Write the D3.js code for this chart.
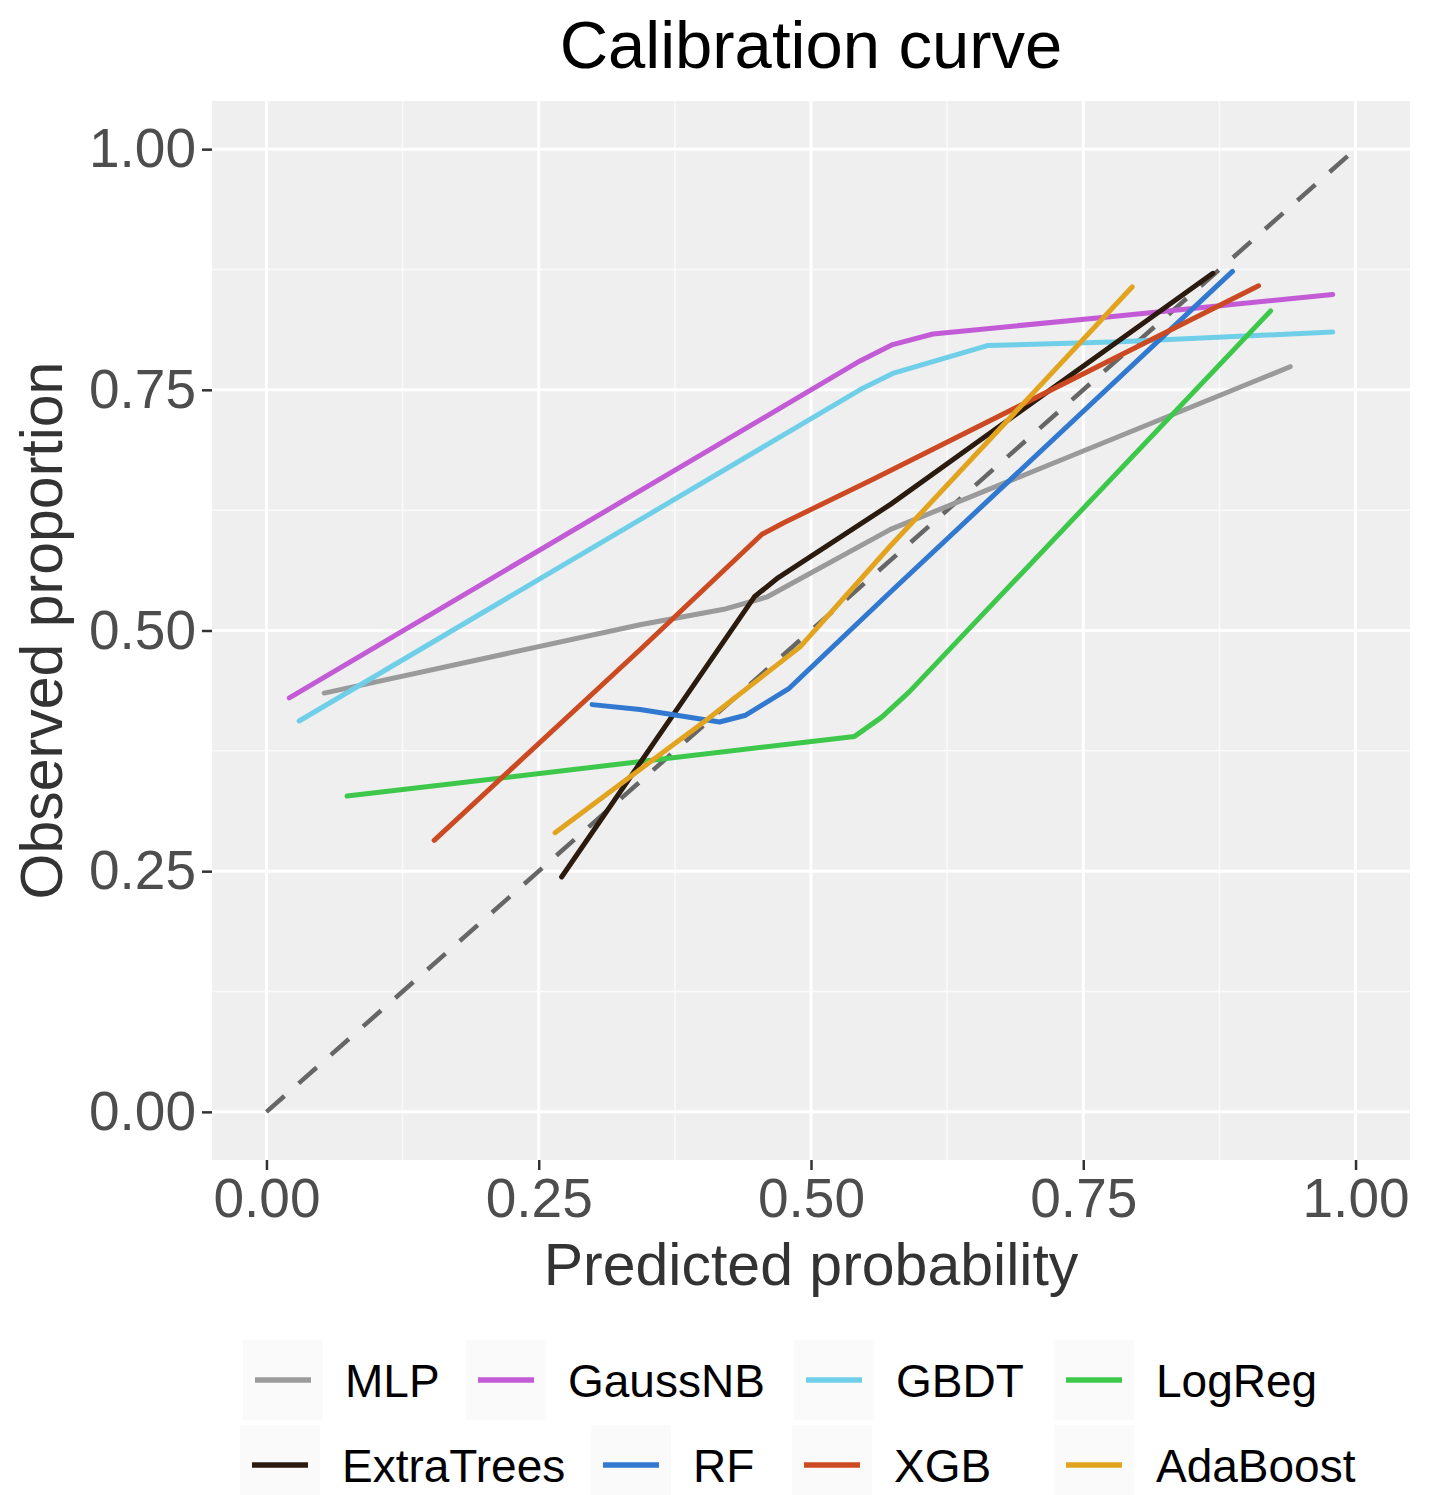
<!DOCTYPE html>
<html>
<head>
<script src="https://cdn.jsdelivr.net/npm/d3@7"></script>
<style>
  body { margin: 0; background: #fff; }
  text { font-family: "Liberation Sans", Arial, sans-serif; }
</style>
</head>
<body>
<script>
// models, in legend order
var models = ["MLP", "GaussNB", "GBDT", "LogReg", "ExtraTrees", "RF", "XGB", "AdaBoost"];
var colors = ["#9a9a9a", "#c35bd6", "#6fcfe9", "#3dc84b", "#2b1b0e", "#3178d0", "#cc4a22", "#e2a41f"];

// calibration points [predicted, observed]
var mlp = [[0.053, 0.435], [0.343, 0.506], [0.42, 0.522], [0.46, 0.535], [0.573, 0.605], [0.94, 0.774]];
var gaussNB = [[0.021, 0.43], [0.545, 0.78], [0.575, 0.797], [0.612, 0.808], [0.784, 0.827], [0.979, 0.849]];
var gbdt = [[0.03, 0.406], [0.548, 0.752], [0.575, 0.767], [0.662, 0.796], [0.784, 0.80], [0.979, 0.81]];
var logReg = [[0.074, 0.328], [0.54, 0.39], [0.565, 0.41], [0.59, 0.436], [0.922, 0.832]];
var extraTrees = [[0.271, 0.244], [0.448, 0.535], [0.47, 0.555], [0.573, 0.631], [0.869, 0.871]];
var rf = [[0.299, 0.423], [0.343, 0.418], [0.416, 0.405], [0.44, 0.412], [0.48, 0.44], [0.573, 0.54], [0.887, 0.873]];
var xgb = [[0.154, 0.282], [0.343, 0.48], [0.455, 0.6], [0.475, 0.612], [0.557, 0.657], [0.911, 0.858]];
var adaBoost = [[0.265, 0.29], [0.404, 0.407], [0.49, 0.483], [0.573, 0.588], [0.795, 0.857]];
var series = [mlp, gaussNB, gbdt, logReg, extraTrees, rf, xgb, adaBoost];

var ticks = [0, 0.25, 0.5, 0.75, 1];
var tickLabels = ["0.00", "0.25", "0.50", "0.75", "1.00"];
var minorTicks = [0.125, 0.375, 0.625, 0.875];

var width = 1429, height = 1495;
var panelLeft = 212, panelRight = 1410, panelTop = 101, panelBottom = 1160;

var svg = d3.select("body").append("svg").attr("width", width).attr("height", height);

var x = d3.scaleLinear().domain([-0.05, 1.05]).range([panelLeft, panelRight]);
var y = d3.scaleLinear().domain([-0.05, 1.05]).range([panelBottom, panelTop]);

// panel
svg.append("rect").attr("x", panelLeft).attr("y", panelTop)
  .attr("width", panelRight - panelLeft).attr("height", panelBottom - panelTop).attr("fill", "#eeefee");

// grid
svg.selectAll(".vminor").data(minorTicks).enter().append("line")
  .attr("x1", d => x(d)).attr("x2", d => x(d)).attr("y1", panelTop).attr("y2", panelBottom)
  .attr("stroke", "#fafafa").attr("stroke-width", 1.5);
svg.selectAll(".hminor").data(minorTicks).enter().append("line")
  .attr("y1", d => y(d)).attr("y2", d => y(d)).attr("x1", panelLeft).attr("x2", panelRight)
  .attr("stroke", "#fafafa").attr("stroke-width", 1.5);
svg.selectAll(".vmajor").data(ticks).enter().append("line")
  .attr("x1", d => x(d)).attr("x2", d => x(d)).attr("y1", panelTop).attr("y2", panelBottom)
  .attr("stroke", "#fff").attr("stroke-width", 3);
svg.selectAll(".hmajor").data(ticks).enter().append("line")
  .attr("y1", d => y(d)).attr("y2", d => y(d)).attr("x1", panelLeft).attr("x2", panelRight)
  .attr("stroke", "#fff").attr("stroke-width", 3);

// axes
var xAxis = d3.axisBottom(x).tickValues(ticks).tickFormat((d, i) => tickLabels[i])
  .tickSize(10).tickPadding(8);
var yAxis = d3.axisLeft(y).tickValues(ticks).tickFormat((d, i) => tickLabels[i])
  .tickSize(10).tickPadding(6);

var gx = svg.append("g").attr("transform", "translate(0," + panelBottom + ")").call(xAxis);
var gy = svg.append("g").attr("transform", "translate(" + panelLeft + ",0)").call(yAxis);
[gx, gy].forEach(function(g) {
  g.select(".domain").remove();
  g.selectAll(".tick line").attr("stroke", "#333").attr("stroke-width", 2.5);
  g.selectAll(".tick text").attr("fill", "#4d4d4d").style("font-size", "55px");
});

// diagonal reference
svg.append("line")
  .attr("x1", x(0)).attr("y1", y(0)).attr("x2", x(1)).attr("y2", y(1))
  .attr("stroke", "#666").attr("stroke-width", 4.5).attr("stroke-dasharray", "24,19");

// curves
var line = d3.line().x(d => x(d[0])).y(d => y(d[1])).curve(d3.curveLinear);
svg.selectAll(".curve").data(series).enter().append("path")
  .attr("d", line).attr("fill", "none")
  .attr("stroke", (d, i) => colors[i]).attr("stroke-width", 5)
  .attr("stroke-linecap", "round").attr("stroke-linejoin", "round");

// title and axis titles
svg.append("text").attr("x", (panelLeft + panelRight) / 2).attr("y", 68)
  .attr("text-anchor", "middle").style("font-size", "67px").attr("fill", "#000")
  .text("Calibration curve");
svg.append("text").attr("x", (panelLeft + panelRight) / 2).attr("y", 1285)
  .attr("text-anchor", "middle").style("font-size", "59px").attr("fill", "#333")
  .text("Predicted probability");
svg.append("text").attr("transform", "translate(62," + (panelTop + panelBottom) / 2 + ") rotate(-90)")
  .attr("text-anchor", "middle").style("font-size", "59px").attr("fill", "#333")
  .text("Observed proportion");

// legend: two rows of four
var legendRows = [1380, 1465];
var legendKeyX = [[255, 478, 806, 1066], [252, 603, 804, 1066]];
var legend = svg.selectAll(".key").data(models).enter().append("g")
  .attr("transform", function(d, i) {
    var r = Math.floor(i / 4), c = i % 4;
    return "translate(" + legendKeyX[r][c] + "," + legendRows[r] + ")";
  });
legend.append("rect").attr("x", -12).attr("y", -40).attr("width", 80).attr("height", 80)
  .attr("fill", "#fafafa");
legend.append("line").attr("x1", 0).attr("x2", 56).attr("y1", 0).attr("y2", 0)
  .attr("stroke", (d, i) => colors[i]).attr("stroke-width", 5.5);
legend.append("text").attr("x", 90).attr("y", 0).attr("dy", "0.36em")
  .style("font-size", "46px").attr("fill", "#000").text(d => d);
</script>
</body>
</html>
